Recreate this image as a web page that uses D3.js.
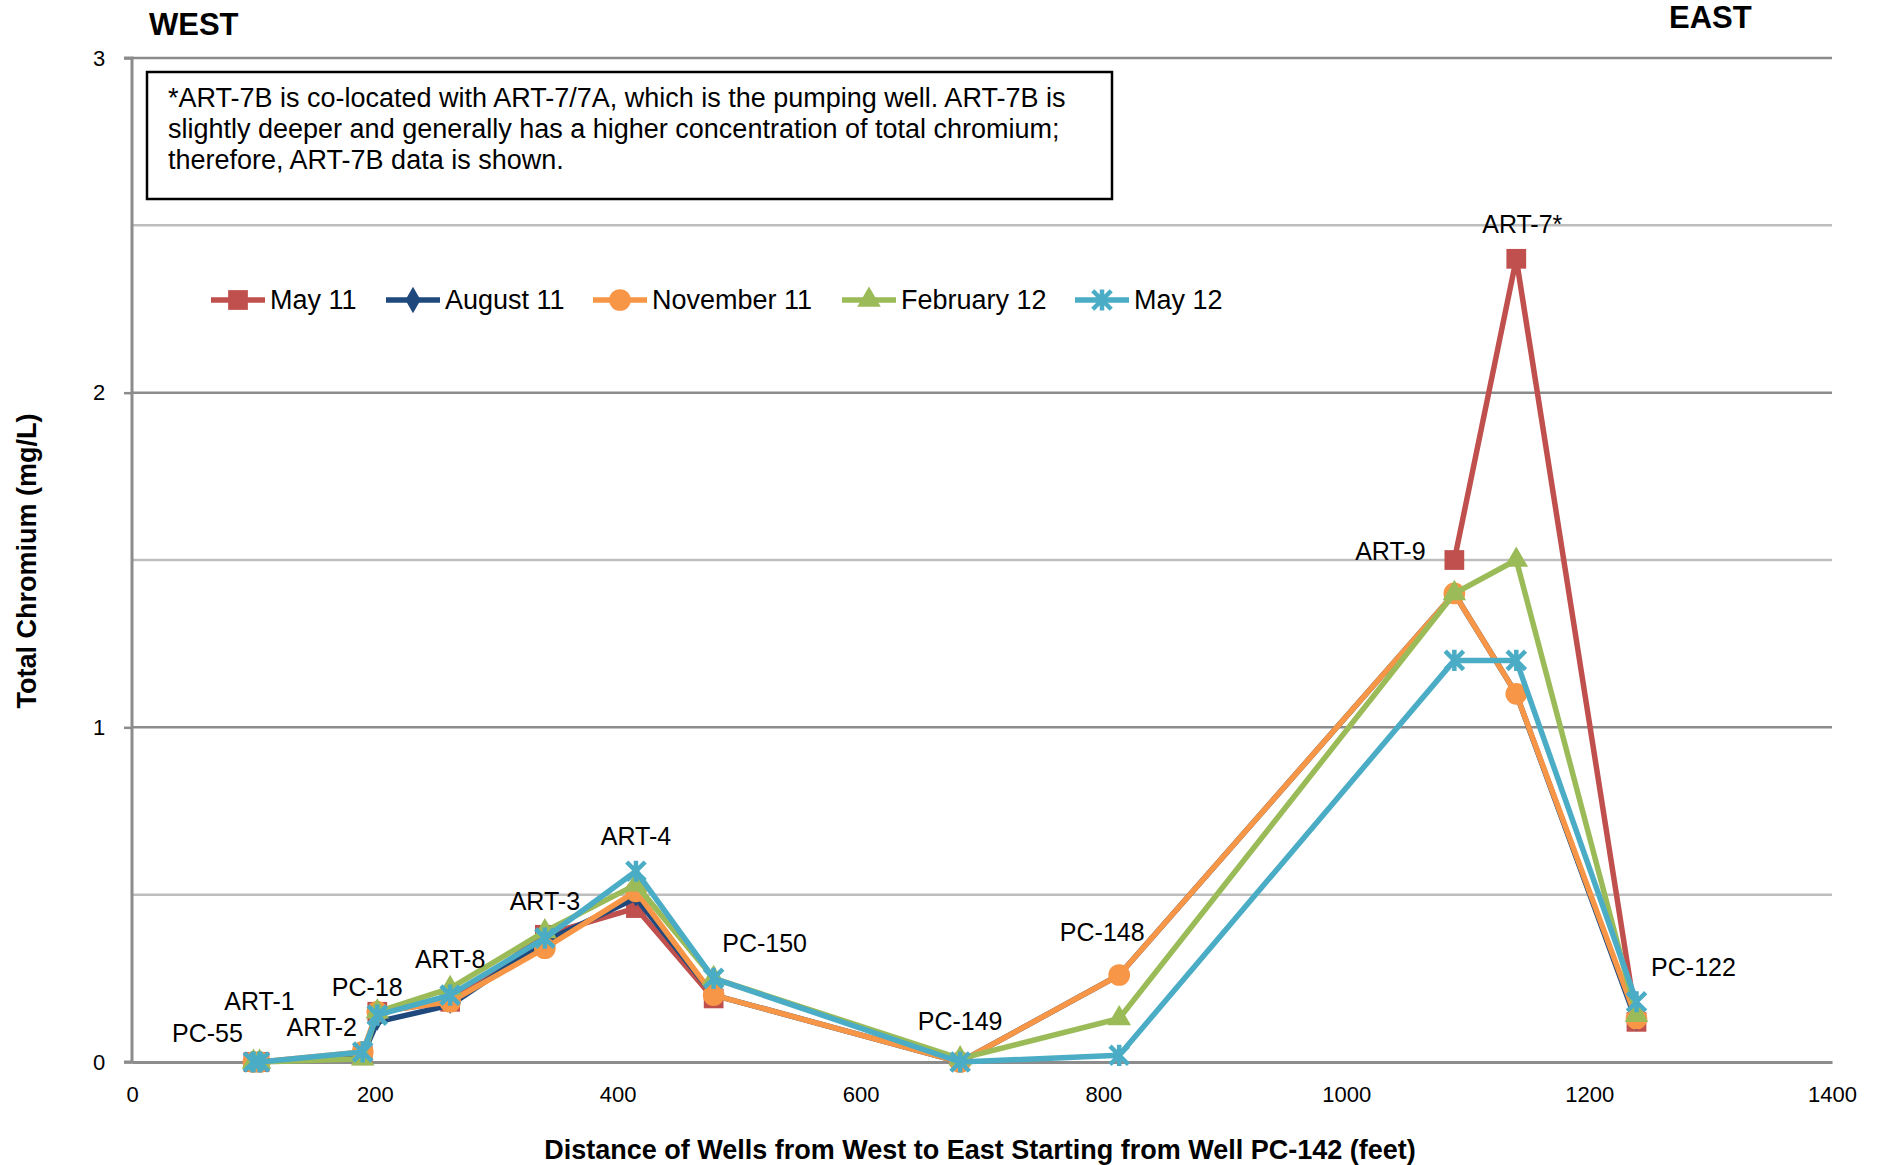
<!DOCTYPE html>
<html><head><meta charset="utf-8">
<script src="https://cdn.jsdelivr.net/npm/d3@7"></script>
<style>
body{margin:0;background:#fff;}
text{font-family:"Liberation Sans",Arial,sans-serif;}
</style></head>
<body><svg id="chart" width="1879" height="1165"></svg>
<script>
// ---- data ----
const wells = ["PC-55","ART-1","ART-2","PC-18","ART-8","ART-3","ART-4","PC-150","PC-149","PC-148","ART-9","ART-7*","PC-122"];
const distances = [100,105,190,202,262,340,415,479,682,813,1089,1140,1239];
const seriesNames = ["May 11","August 11","November 11","February 12","May 12"];
const may11 = [0,0,0.02,0.15,0.18,0.38,0.46,0.19,null,null,1.5,2.4,0.12];
const aug11 = [0,0,0.02,0.12,0.17,0.36,0.49,0.2,0,0.26,1.4,1.1,0.12];
const nov11 = [0,0,0.03,0.15,0.18,0.34,0.51,0.2,0,0.26,1.4,1.1,0.13];
const feb12 = [0,0,0.01,0.15,0.22,0.39,0.53,0.25,0.01,0.13,1.4,1.5,0.14];
const may12 = [0,0,0.03,0.14,0.2,0.37,0.57,0.25,0,0.02,1.2,1.2,0.18];
const xTicks = [0,200,400,600,800,1000,1200,1400];
const yTicks = [0,1,2,3];
const noteLines = ["*ART-7B is co-located with ART-7/7A, which is the pumping well. ART-7B is",
  "slightly deeper and generally has a higher concentration of total chromium;",
  "therefore, ART-7B data is shown."];
// ---- layout / style ----
const colors = ["#C0504D","#1F497D","#F79646","#9BBB59","#4BACC6"];
const labelOffsets = [[-46,-29],[0,-61],[-41,-25],[-10,-25],[0,-29],[0,-30],[0,-35],[51,-35],[0,-37],[-17,-43],[-64,-9],[6,-35],[57,-35]];

const svg = d3.select("#chart");
svg.append("rect").attr("width",1879).attr("height",1165).attr("fill","#fff");
const x = d3.scaleLinear().domain([0,1400]).range([132,1832]);
const y = d3.scaleLinear().domain([0,3]).range([1062,58]);

// gridlines
const gridVals = d3.range(0.5,3.01,0.5);
svg.append("g").selectAll("line").data(gridVals).join("line")
  .attr("x1",x(0)).attr("x2",x(1400)).attr("y1",d=>y(d)).attr("y2",d=>y(d))
  .attr("stroke",d=>Number.isInteger(d)?"#8C8C8C":"#BEBEBE").attr("stroke-width",2.5);

// y axis
const yAxis = svg.append("g").attr("transform",`translate(${x(0)},0)`)
  .call(d3.axisLeft(y).tickValues(yTicks).tickSize(8).tickPadding(22).tickFormat(d3.format("d")));
yAxis.select(".domain").attr("stroke","#8C8C8C").attr("stroke-width",3).attr("d",`M-8,${y(3)}H0V${y(0)}H-8`);
yAxis.selectAll(".tick line").attr("stroke","#8C8C8C").attr("stroke-width",2.5);
yAxis.selectAll(".tick text").attr("font-size",22).attr("fill","#000").attr("font-family","Liberation Sans, Arial, sans-serif").attr("text-anchor","middle").attr("x",-33);

// x axis
const xAxis = svg.append("g").attr("transform",`translate(0,${y(0)})`)
  .call(d3.axisBottom(x).tickValues(xTicks).tickSize(0).tickPadding(24).tickFormat(d3.format("d")));
xAxis.select(".domain").attr("stroke","#8C8C8C").attr("stroke-width",3);
xAxis.selectAll(".tick text").attr("font-size",22).attr("fill","#000").attr("font-family","Liberation Sans, Arial, sans-serif");

// symbols
const star6 = {draw(ctx,size){const r=Math.sqrt(size)/2;ctx.moveTo(-r,-r);ctx.lineTo(r,r);ctx.moveTo(r,-r);ctx.lineTo(-r,r);ctx.moveTo(0,-r*1.15);ctx.lineTo(0,r*1.15);}};
const symbols = [d3.symbolSquare,d3.symbolDiamond,d3.symbolCircle,d3.symbolTriangle,star6];
const symSizes = [390,90,370,240,340];
const legSizes = [390,200,370,240,340];

const allSeries = [may11,aug11,nov11,feb12,may12];
const line = d3.line().defined(d=>d.v!=null).x(d=>x(d.d)).y(d=>y(d.v));
const lineW = [5.5,5.5,5.5,5.5,5.5];

allSeries.forEach((vals,i)=>{
  const pts = vals.map((v,j)=>({d:distances[j],v}));
  const g = svg.append("g");
  g.append("path").attr("d",line(pts)).attr("fill","none").attr("stroke",colors[i]).attr("stroke-width",lineW[i]).attr("stroke-linejoin","round");
  g.selectAll("path.m").data(pts.filter(p=>p.v!=null)).join("path").attr("class","m")
    .attr("transform",p=>`translate(${x(p.d)},${y(p.v)})`)
    .attr("d",d3.symbol(symbols[i],symSizes[i]))
    .attr("fill",i===4?"none":colors[i]).attr("stroke",colors[i]).attr("stroke-width",i===4?4.5:0);
});

// well labels
svg.append("g").selectAll("text").data(wells).join("text")
  .attr("x",(w,j)=>x(distances[j])+labelOffsets[j][0])
  .attr("y",(w,j)=>y(d3.max(allSeries,s=>s[j]))+labelOffsets[j][1])
  .attr("dy","0.35em").attr("text-anchor","middle").attr("font-size",25).attr("fill","#000").text(w=>w);

// legend
const legX = [211,386,593,842,1075];
const lg = svg.append("g").selectAll("g").data(seriesNames).join("g")
  .attr("transform",(d,i)=>`translate(${legX[i]},300)`);
lg.append("line").attr("x1",0).attr("x2",54).attr("stroke",(d,i)=>colors[i]).attr("stroke-width",5.5);
lg.append("path").attr("transform","translate(27,0)").attr("d",(d,i)=>d3.symbol(symbols[i],legSizes[i])())
  .attr("fill",(d,i)=>i===4?"none":colors[i]).attr("stroke",(d,i)=>colors[i]).attr("stroke-width",(d,i)=>i===4?4.5:0);
lg.append("text").attr("x",59).attr("dy","0.35em").attr("font-size",27).attr("fill","#000").text(d=>d);

// note box
svg.append("rect").attr("x",147).attr("y",72).attr("width",965).attr("height",127)
  .attr("fill","#fff").attr("stroke","#000").attr("stroke-width",2.5);
svg.append("g").selectAll("text").data(noteLines).join("text")
  .attr("x",168).attr("y",(d,i)=>107+i*31).attr("font-size",27).attr("fill","#000").text(d=>d);

// WEST / EAST
svg.append("text").attr("x",149).attr("y",35).attr("font-size",31).attr("font-weight","bold").text("WEST");
svg.append("text").attr("x",1669).attr("y",28).attr("font-size",31).attr("font-weight","bold").text("EAST");

// axis titles
svg.append("text").attr("transform","translate(36,561) rotate(-90)").attr("text-anchor","middle")
  .attr("font-size",27).attr("font-weight","bold").text("Total Chromium (mg/L)");
svg.append("text").attr("x",980).attr("y",1159).attr("text-anchor","middle")
  .attr("font-size",27).attr("font-weight","bold").text("Distance of Wells from West to East Starting from Well PC-142 (feet)");
</script></body></html>
